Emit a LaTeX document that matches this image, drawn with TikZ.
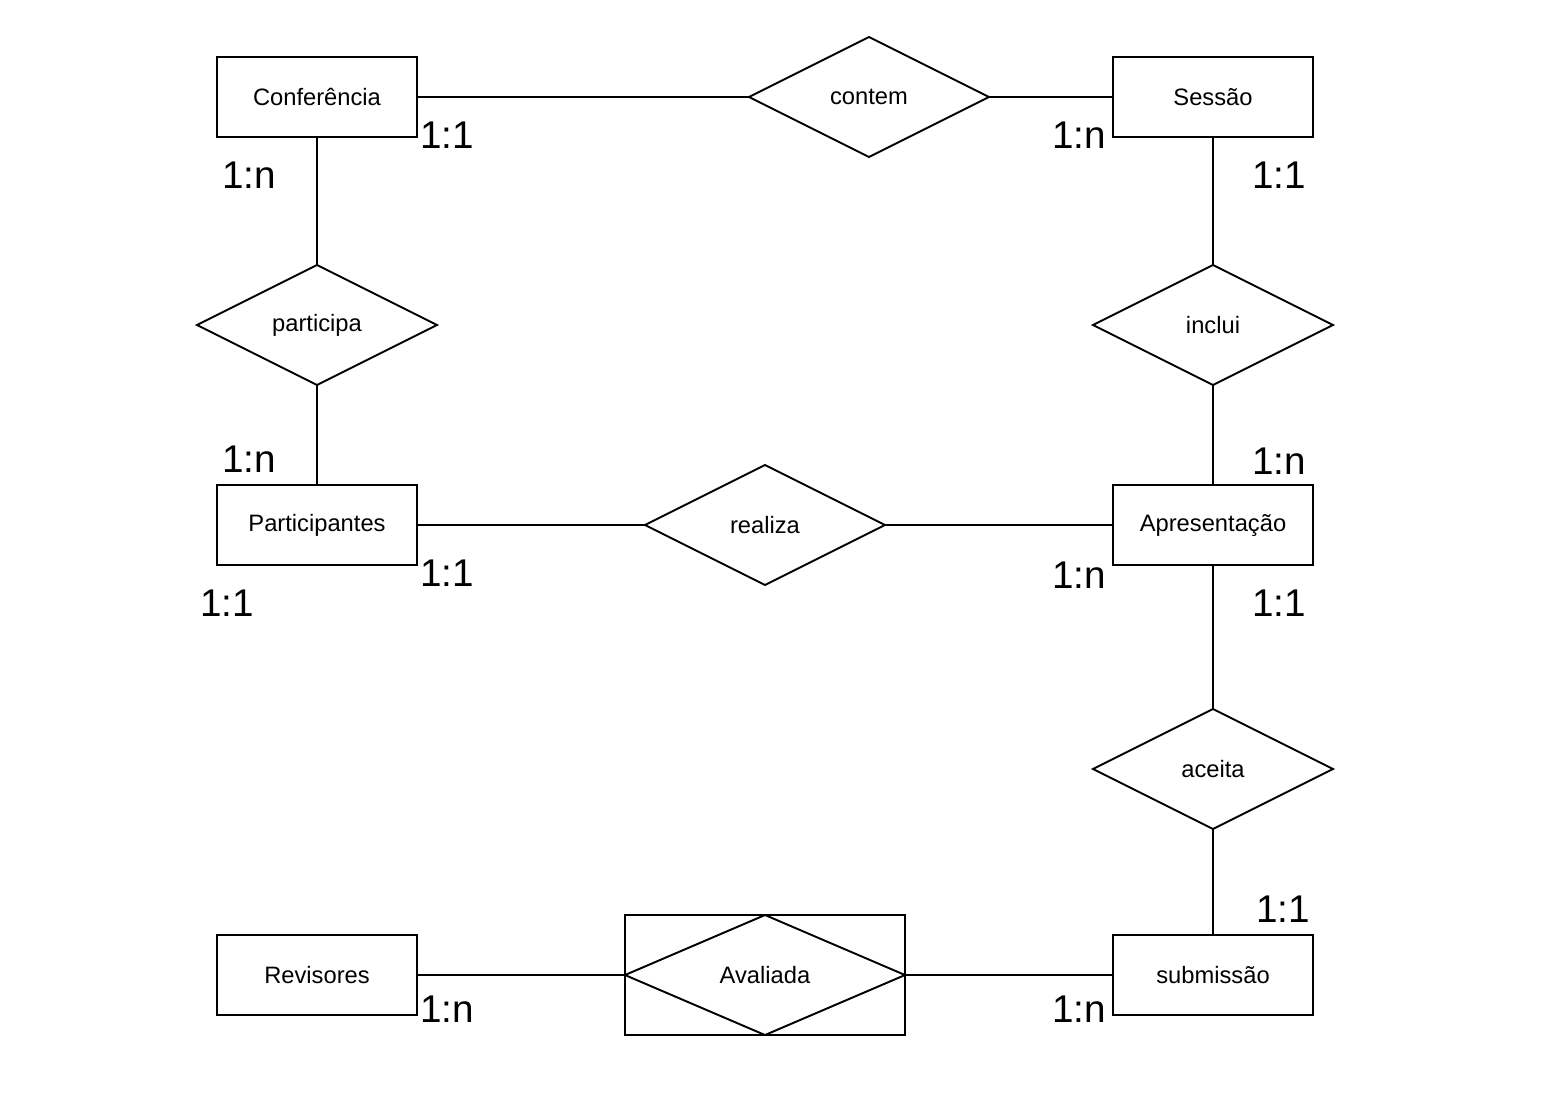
\documentclass[tikz,border=0pt]{standalone}
\usepackage{fontspec}
\setmainfont{Liberation Sans}
\usetikzlibrary{shapes.geometric, positioning}

\tikzset{
  entity/.style={draw, line width=1.1pt, outer sep=0pt, minimum width=4cm, minimum height=1.6cm, inner sep=2pt, font=\fontsize{13.5}{16}\selectfont},
  relation/.style={draw, diamond, aspect=2, line width=1.1pt, outer sep=0pt, minimum width=4.8cm, minimum height=2.4cm, inner sep=0pt, font=\fontsize{13.5}{16}\selectfont},
  card/.style={font=\fontsize{22}{24}\selectfont, inner sep=0pt},
  link/.style={line width=1.1pt}
}

\begin{document}
\begin{tikzpicture}
\useasboundingbox (0,0) rectangle (31.24,-22.24);

\node[entity] (conf) at (6.34,-1.94) {Conferência};
\node[relation, right=6.64cm of conf] (contem) {contem};
\node[entity, right=2.48cm of contem] (sessao) {Sessão};

\node[relation, below=2.56cm of conf] (participa) {participa};
\node[entity, below=2cm of participa] (part) {Participantes};

\node[relation, below=2.56cm of sessao] (inclui) {inclui};
\node[entity, below=2cm of inclui] (apres) {Apresentação};

\node[relation, right=4.56cm of part] (realiza) {realiza};

\node[relation, below=2.88cm of apres] (aceita) {aceita};
\node[entity, below=2.12cm of aceita] (subm) {submissão};

\node[draw, line width=1.1pt, outer sep=0pt, minimum width=5.6cm, minimum height=2.4cm, left=4.16cm of subm] (avbox) {};
\node[relation, minimum width=5.6cm] (aval) at (avbox) {Avaliada};
\node[entity, left=4.16cm of avbox] (rev) {Revisores};

% connectors
\draw[link] (conf.east) -- (contem.west);
\draw[link] (contem.east) -- (sessao.west);
\draw[link] (conf.south) -- (participa.north);
\draw[link] (participa.south) -- (part.north);
\draw[link] (sessao.south) -- (inclui.north);
\draw[link] (inclui.south) -- (apres.north);
\draw[link] (part.east) -- (realiza.west);
\draw[link] (realiza.east) -- (apres.west);
\draw[link] (apres.south) -- (aceita.north);
\draw[link] (aceita.south) -- (subm.north);
\draw[link] (rev.east) -- (aval.west);
\draw[link] (aval.east) -- (subm.west);

% cardinalities
\node[card] (c1) at (8.94,-2.70) {1:1};
\node[card] (c2) at (4.98,-3.50) {1:n};
\node[card] (c3) at (21.58,-2.70) {1:n};
\node[card] (c4) at (25.58,-3.50) {1:1};
\node[card] (c5) at (4.98,-9.18) {1:n};
\node[card] (c6) at (25.58,-9.22) {1:n};
\node[card] (c7) at (8.94,-11.46) {1:1};
\node[card] (c8) at (21.58,-11.50) {1:n};
\node[card] (c9) at (4.54,-12.06) {1:1};
\node[card] (c10) at (25.58,-12.06) {1:1};
\node[card] (c11) at (25.66,-18.18) {1:1};
\node[card] (c12) at (8.94,-20.18) {1:n};
\node[card] (c13) at (21.58,-20.18) {1:n};
\end{tikzpicture}
\end{document}
